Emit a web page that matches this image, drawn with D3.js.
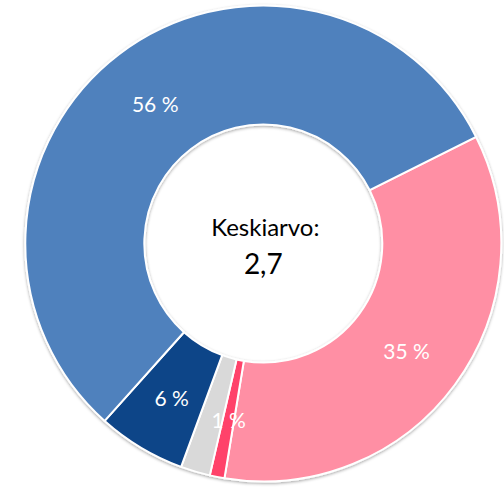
<!DOCTYPE html>
<html><head><meta charset="utf-8">
<script src="https://cdn.jsdelivr.net/npm/d3@7"></script>
<style>html,body{margin:0;padding:0;background:#fff;}svg{display:block;}</style>
</head><body>
<svg id="c" width="504" height="487"></svg>
<script>
const categories = ["A", "B", "C", "D", "E"];
const values = [35, 1, 2, 6, 56];
const labels = ["35 %", "1 %", "", "6 %", "56 %"];
const colors = ["#FF8FA4", "#FF426A", "#D9D9D9", "#0E4488", "#4F81BD"];
const centerTitle = "Keskiarvo:";
const centerValue = "2,7";

const svg = d3.select("#c");
const cx = 263.3, cy = 243.5, R = 238, r = 119;
const start = 63.4 * Math.PI / 180;

const defs = svg.append("defs");
const f = defs.append("filter").attr("id","sh").attr("x","-10%").attr("y","-10%").attr("width","120%").attr("height","120%");
f.append("feDropShadow").attr("dx",0).attr("dy",1.2).attr("stdDeviation",1.6).attr("flood-color","#000").attr("flood-opacity",0.35);

const pie = d3.pie().value(d => d).sort(null).startAngle(start).endAngle(start + 2*Math.PI);
const arcs = pie(values);
const arc = d3.arc().innerRadius(r).outerRadius(R);
const labelArc = d3.arc().innerRadius(178).outerRadius(178);

const g = svg.append("g").attr("transform", `translate(${cx},${cy})`);
g.append("g").attr("filter","url(#sh)")
  .selectAll("path").data(arcs).join("path")
  .attr("d", arc)
  .attr("fill", (d,i) => colors[i])
  .attr("stroke", "#fff").attr("stroke-width", 2).attr("stroke-linejoin","round");

g.selectAll("text.lbl").data(arcs).join("text").attr("class","lbl")
  .attr("x", d => labelArc.centroid(d)[0])
  .attr("y", d => labelArc.centroid(d)[1] + 1)
  .attr("text-anchor","middle").attr("dominant-baseline","central")
  .attr("font-family","Lato, 'Open Sans', sans-serif").attr("font-size",21)
  .attr("fill","#fff")
  .text((d,i) => labels[i]);

g.append("text").attr("x",2).attr("y",-17).attr("text-anchor","middle").attr("dominant-baseline","central")
  .attr("font-family","Lato, 'Open Sans', sans-serif").attr("font-size",24).attr("fill","#000").text(centerTitle);
g.append("text").attr("x",0).attr("y",19).attr("text-anchor","middle").attr("dominant-baseline","central")
  .attr("font-family","Lato, 'Open Sans', sans-serif").attr("font-size",28).attr("fill","#000").text(centerValue);
</script>
</body></html>
